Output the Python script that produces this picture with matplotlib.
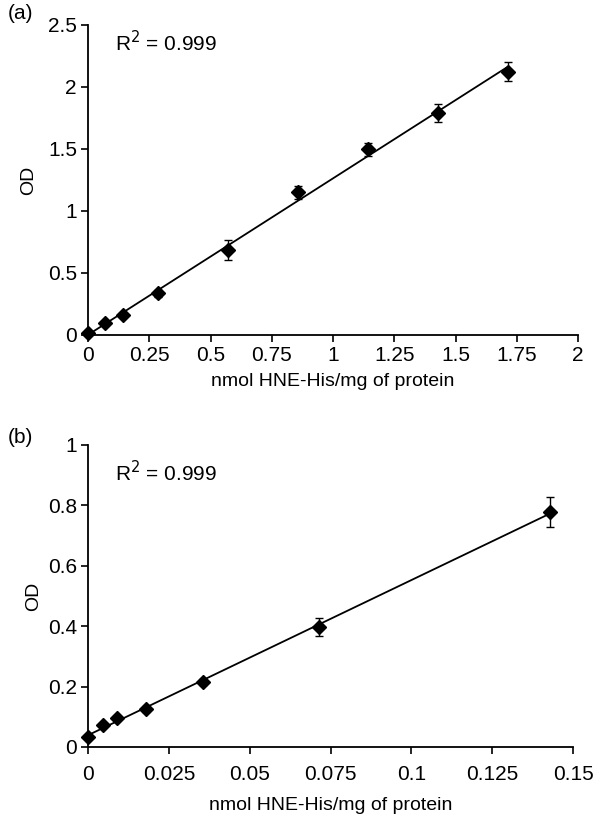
import matplotlib
matplotlib.use('Agg')
import matplotlib.pyplot as plt
import numpy as np

plt.rcParams['font.family'] = ['Liberation Sans', 'DejaVu Sans']

# ─── data ─────────────────────────────────────────────────────────────────────

xa = [0.0, 0.071, 0.143, 0.286, 0.571, 0.857, 1.143, 1.429, 1.714]
ya = [0.016, 0.094, 0.16, 0.336, 0.685, 1.15, 1.497, 1.79, 2.125]
ea = [0.01, 0.015, 0.015, 0.03, 0.08, 0.05, 0.055, 0.07, 0.075]

xb = [0.0, 0.0045, 0.0089, 0.0179, 0.0357, 0.0714, 0.1429]
yb = [0.034, 0.073, 0.095, 0.125, 0.215, 0.397, 0.779]
eb = [0.005, 0.006, 0.006, 0.008, 0.01, 0.03, 0.05]

xticks_a = [0, 0.25, 0.5, 0.75, 1, 1.25, 1.5, 1.75, 2]
xticklabels_a = ['0', '0.25', '0.5', '0.75', '1', '1.25', '1.5', '1.75', '2']
yticks_a = [0, 0.5, 1, 1.5, 2, 2.5]
yticklabels_a = ['0', '0.5', '1', '1.5', '2', '2.5']

xticks_b = [0, 0.025, 0.05, 0.075, 0.1, 0.125, 0.15]
xticklabels_b = ['0', '0.025', '0.05', '0.075', '0.1', '0.125', '0.15']
yticks_b = [0, 0.2, 0.4, 0.6, 0.8, 1]
yticklabels_b = ['0', '0.2', '0.4', '0.6', '0.8', '1']

# ─── figure ───────────────────────────────────────────────────────────────────

fig = plt.figure(figsize=(5.97, 8.18), dpi=100)
W, H = 597, 818
ax_a = fig.add_axes([88 / W, 1 - 335 / H, (578 - 88) / W, (335 - 25) / H])
ax_b = fig.add_axes([88 / W, 1 - 747 / H, (573 - 88) / W, (747 - 445) / H])


def draw(ax, x, y, e, xt, xtl, yt, ytl, xlim, ylim, r2y, xpad, xlpad, ylpad):
    x = np.array(x)
    y = np.array(y)
    k, b = np.polyfit(x, y, 1)
    xx = np.array([x.min(), x.max()])
    ax.plot(xx, k * xx + b, color='black', linewidth=1.3, zorder=2)
    ax.errorbar(x, y, yerr=e, fmt='D', color='black', markersize=7.5,
                ecolor='black', elinewidth=1, capsize=3, capthick=1, zorder=3,
                clip_on=False)
    ax.set_xlim(*xlim)
    ax.set_ylim(*ylim)
    ax.set_xticks(xt)
    ax.set_xticklabels(xtl)
    ax.set_yticks(yt)
    ax.set_yticklabels(ytl)
    for s in ['top', 'right']:
        ax.spines[s].set_visible(False)
    for s in ['left', 'bottom']:
        ax.spines[s].set_linewidth(1.3)
    ax.tick_params(direction='out', length=5, width=1.2, labelsize=15, pad=3)
    ax.tick_params(axis='x', pad=xpad)
    ax.set_xlabel('nmol HNE-His/mg of protein', fontsize=14, labelpad=xlpad)
    ax.set_ylabel('OD', fontsize=14, labelpad=ylpad)
    ax.text(0.055, r2y, 'R$^2$ = 0.999', transform=ax.transAxes,
            fontsize=15, va='top', ha='left')


draw(ax_a, xa, ya, ea, xticks_a, xticklabels_a, yticks_a, yticklabels_a,
     (0, 2), (0, 2.5), 0.985, 3, 6, 8)
draw(ax_b, xb, yb, eb, xticks_b, xticklabels_b, yticks_b, yticklabels_b,
     (0, 0.15), (0, 1), 0.95, 8, 9, 4)

fig.text(8 / W, 1 - 4 / H, '(a)', fontsize=15, va='top', ha='left')
fig.text(8 / W, 1 - 428 / H, '(b)', fontsize=15, va='top', ha='left')

plt.savefig('out.png', dpi=100)
plt.close()
print('out.png saved')
